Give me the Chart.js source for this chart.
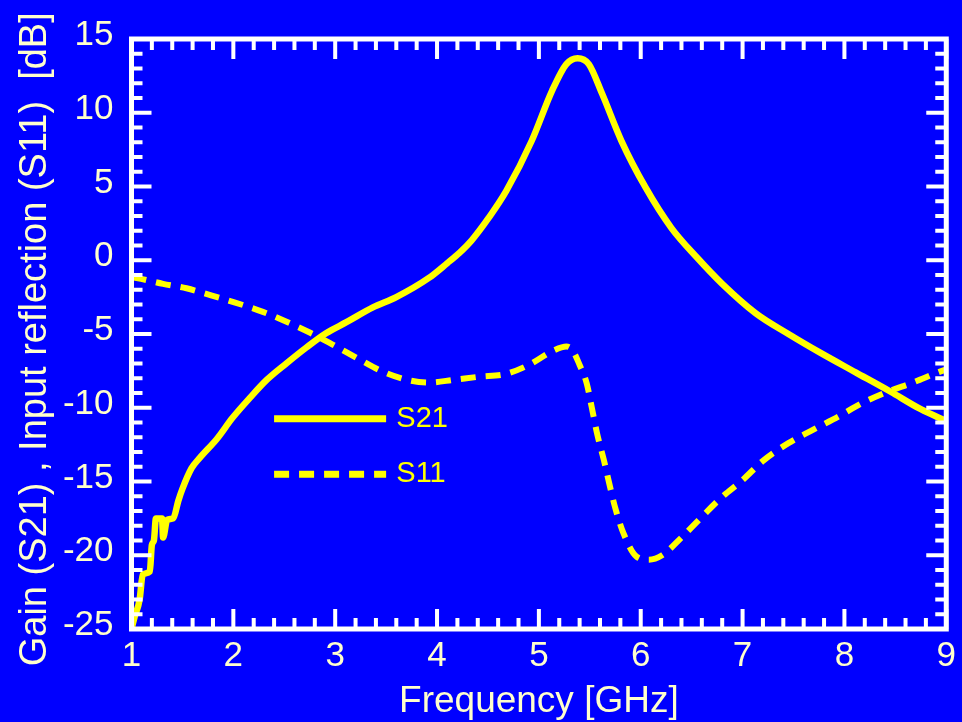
<!DOCTYPE html>
<html><head><meta charset="utf-8">
<script src="https://cdn.jsdelivr.net/npm/chart.js@4"></script>
<style>html,body{margin:0;padding:0;background:#0000ff;overflow:hidden}#wrap{width:962px;height:722px}</style>
</head><body><div id="wrap"><canvas id="c" width="962" height="722"></canvas></div>
<script>
const seriesNames = ['S21', 'S11'];
const xTitle = 'Frequency [GHz]';
const yTitle = 'Gain (S21) , Input reflection (S11)  [dB] ';
const xTicks = [1, 2, 3, 4, 5, 6, 7, 8, 9];
const yTicks = [-25, -20, -15, -10, -5, 0, 5, 10, 15];

const s21Freq = [1.00, 1.03, 1.08, 1.11, 1.18, 1.20, 1.22, 1.24, 1.30, 1.31, 1.35, 1.41, 1.46, 1.50, 1.59, 1.67, 1.84, 1.99, 2.16, 2.33, 2.52, 2.72, 2.91, 3.11, 3.37, 3.60, 3.92, 4.10, 4.22, 4.34, 4.51, 4.68, 4.93, 5.13, 5.27, 5.38, 5.49, 5.62, 5.81, 6.05, 6.30, 6.55, 6.80, 7.13, 7.45, 7.77, 8.11, 8.45, 8.75, 9.00];
const s21Gain = [-25.0, -24.2, -23.0, -21.3, -21.1, -19.3, -19.0, -17.5, -17.5, -18.8, -17.6, -17.5, -16.3, -15.5, -14.1, -13.4, -12.1, -10.7, -9.35, -8.1, -7.0, -5.9, -4.95, -4.2, -3.2, -2.5, -1.2, -0.2, 0.5, 1.35, 2.9, 4.7, 8.1, 11.5, 13.3, 13.7, 13.3, 11.3, 8.1, 4.9, 2.2, 0.2, -1.6, -3.6, -5.0, -6.3, -7.6, -8.9, -10.1, -10.9];

const s11Freq = [1.00, 1.05, 1.31, 1.54, 1.79, 2.01, 2.29, 2.50, 2.75, 2.97, 3.22, 3.45, 3.70, 3.92, 4.17, 4.41, 4.68, 4.90, 5.15, 5.27, 5.33, 5.40, 5.47, 5.52, 5.57, 5.64, 5.69, 5.75, 5.83, 5.96, 6.08, 6.21, 6.40, 6.60, 6.79, 7.00, 7.20, 7.45, 7.69, 7.94, 8.17, 8.43, 8.67, 8.92, 9.00];
const s11Refl = [-1.15, -1.2, -1.6, -1.9, -2.4, -2.85, -3.5, -4.1, -4.9, -5.7, -6.65, -7.5, -8.1, -8.3, -8.1, -7.9, -7.7, -7.1, -6.1, -5.85, -6.1, -7.1, -8.35, -10.0, -11.7, -13.6, -15.1, -16.8, -18.5, -20.1, -20.3, -20.0, -18.8, -17.4, -16.1, -14.9, -13.6, -12.4, -11.5, -10.6, -9.7, -8.9, -8.3, -7.6, -7.4];

const FG = '#ffff00';
const TXT = '#ffffcc';
const FONT = "'Liberation Sans', Arial, sans-serif";

function pts(xs, ys) { return xs.map((v, i) => ({x: v, y: ys[i]})); }

const frameTicks = {
  id: 'frameTicks',
  afterDraw(chart) {
    const {ctx, chartArea: a, scales: {x, y}} = chart;
    ctx.save();
    ctx.strokeStyle = '#ffffff';
    ctx.lineCap = 'butt';
    ctx.lineWidth = 4;
    const xMin = xTicks[0], xMax = xTicks[xTicks.length - 1];
    for (let k = 0; k <= (xMax - xMin) * 5; k++) {
      const v = xMin + k * 0.2;
      const len = (k % 5 === 0) ? 20 : 11;
      const p = x.getPixelForValue(v);
      ctx.beginPath();
      ctx.moveTo(p, a.bottom); ctx.lineTo(p, a.bottom - len);
      ctx.moveTo(p, a.top); ctx.lineTo(p, a.top + len);
      ctx.stroke();
    }
    const yMin = yTicks[0], yMax = yTicks[yTicks.length - 1];
    for (let k = 0; k <= (yMax - yMin); k++) {
      const v = yMin + k;
      const len = (k % 5 === 0) ? 20 : 11;
      const p = y.getPixelForValue(v);
      ctx.beginPath();
      ctx.moveTo(a.left, p); ctx.lineTo(a.left + len, p);
      ctx.moveTo(a.right, p); ctx.lineTo(a.right - len, p);
      ctx.stroke();
    }
    ctx.lineWidth = 5;
    ctx.strokeRect(a.left, a.top, a.right - a.left, a.bottom - a.top);
    ctx.restore();
  }
};

const innerLegend = {
  id: 'innerLegend',
  afterDatasetsDraw(chart) {
    const {ctx, scales: {x, y}} = chart;
    const x0 = x.getPixelForValue(2.40), x1 = x.getPixelForValue(3.50), xt = x.getPixelForValue(3.60);
    const rows = [y.getPixelForValue(-10.75), y.getPixelForValue(-14.5)];
    ctx.save();
    chart.data.datasets.forEach((ds, i) => {
      ctx.strokeStyle = ds.borderColor;
      ctx.lineWidth = 7;
      ctx.setLineDash(ds.borderDash || []);
      ctx.beginPath();
      ctx.moveTo(x0, rows[i]); ctx.lineTo(x1, rows[i]);
      ctx.stroke();
      ctx.setLineDash([]);
      ctx.fillStyle = FG;
      ctx.font = '29px ' + FONT;
      ctx.textBaseline = 'middle';
      ctx.textAlign = 'left';
      ctx.fillText(ds.label, xt, rows[i]);
    });
    ctx.restore();
  }
};

new Chart(document.getElementById('c'), {
  type: 'line',
  data: {
    datasets: [
      {label: seriesNames[0], data: pts(s21Freq, s21Gain), borderColor: FG, borderWidth: 6.5, pointRadius: 0, cubicInterpolationMode: 'monotone', fill: false},
      {label: seriesNames[1], data: pts(s11Freq, s11Refl), borderColor: FG, borderWidth: 6, borderDash: [15, 10], pointRadius: 0, cubicInterpolationMode: 'monotone', fill: false}
    ]
  },
  options: {
    responsive: false,
    animation: false,
    devicePixelRatio: 1,
    layout: {padding: {top: 38.5, right: 13.5, left: 0, bottom: 0}},
    plugins: {legend: {display: false}, tooltip: {enabled: false}},
    scales: {
      x: {
        type: 'linear', min: xTicks[0], max: xTicks[xTicks.length - 1],
        afterBuildTicks: s => { s.ticks = xTicks.map(v => ({value: v})); },
        afterFit: s => { s.height = 93; },
        grid: {display: false, drawTicks: false},
        border: {display: false},
        ticks: {color: TXT, font: {family: FONT, size: 35}, padding: 6, autoSkip: false, maxRotation: 0},
        title: {display: true, text: xTitle, color: TXT, font: {family: FONT, size: 37}, padding: {top: 0, bottom: -2}}
      },
      y: {
        type: 'linear', min: yTicks[0], max: yTicks[yTicks.length - 1],
        afterBuildTicks: s => { s.ticks = yTicks.map(v => ({value: v})); },
        afterFit: s => { s.width = 131.5; },
        grid: {display: false, drawTicks: false},
        border: {display: false},
        ticks: {color: TXT, font: {family: FONT, size: 35}, padding: 18, labelOffset: -3.5, autoSkip: false},
        title: {display: true, text: yTitle, color: TXT, font: {family: FONT, size: 38}, padding: {top: 13, bottom: 0}}
      }
    }
  },
  plugins: [frameTicks, innerLegend]
});
</script></body></html>
